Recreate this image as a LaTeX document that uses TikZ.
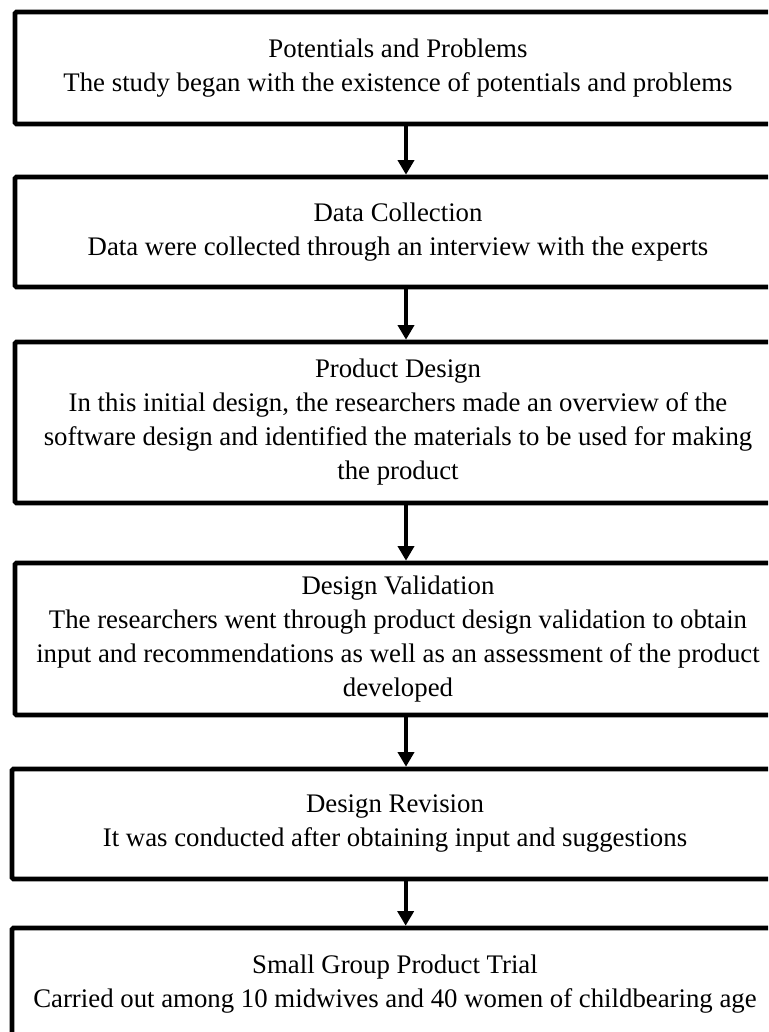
\documentclass[tikz,border=0pt]{standalone}
\usepackage{fontspec}
\setmainfont{Liberation Serif}
\usetikzlibrary{arrows.meta}
\begin{document}
\begin{tikzpicture}[x=0.75pt,y=-0.75pt]
\tikzset{
  stagebox/.style={draw, line width=3.4pt, rounded corners=1pt, inner sep=0pt,
    align=center, minimum width=574.5pt, font=\fontsize{20.1}{25.5}\selectfont},
  flowarrow/.style={line width=3.2pt, -{Triangle[width=12pt,length=11pt]}}
}
\useasboundingbox (0,0) rectangle (768,1032);
\clip (0,0) rectangle (768,1032);
\fill[white] (0,0) rectangle (768,1032);

\node[stagebox, minimum height=84pt] (b1) at (398,68)
  {Potentials and Problems\\The study began with the existence of potentials and problems};
\node[stagebox, minimum height=82.5pt] (b2) at (398,232)
  {Data Collection\\Data were collected through an interview with the experts};
\node[stagebox, minimum height=120.75pt] (b3) at (398,422.5)
  {Product Design\\In this initial design, the researchers made an overview of the\\software design and identified the materials to be used for making\\the product};
\node[stagebox, minimum height=114pt] (b4) at (398,639)
  {Design Validation\\The researchers went through product design validation to obtain\\input and recommendations as well as an assessment of the product\\developed};
\node[stagebox, minimum height=82.5pt] (b5) at (395,824)
  {Design Revision\\It was conducted after obtaining input and suggestions};
\node[stagebox, minimum height=84pt] (b6) at (395,984)
  {Small Group Product Trial\\Carried out among 10 midwives and 40 women of childbearing age};

\draw[flowarrow] ([xshift=6pt]b1.south) -- ([xshift=6pt]b1.south |- b2.north);
\draw[flowarrow] ([xshift=6pt]b2.south) -- ([xshift=6pt]b2.south |- b3.north);
\draw[flowarrow] ([xshift=6pt]b3.south) -- ([xshift=6pt]b3.south |- b4.north);
\draw[flowarrow] ([xshift=6pt]b4.south) -- ([xshift=6pt]b4.south |- b5.north);
\draw[flowarrow] ([xshift=8pt]b5.south) -- ([xshift=8pt]b5.south |- b6.north);
\end{tikzpicture}
\end{document}
